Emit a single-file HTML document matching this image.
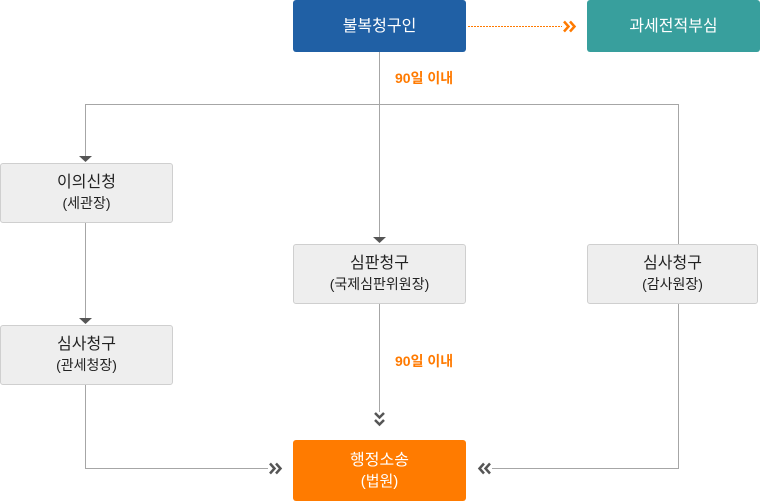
<!DOCTYPE html>
<html><head><meta charset="utf-8"><style>
body{margin:0;width:760px;height:501px;background:#fff;position:relative;overflow:hidden;font-family:"Liberation Sans","Noto Sans CJK KR",sans-serif}
.b{position:absolute;box-sizing:border-box;border-radius:3px;text-align:center;display:flex;flex-direction:column;justify-content:center;align-items:center}
.g{background:#eeeeee;border:1px solid #cfcfcf;color:#222}
.t{font-size:16px;line-height:21px}
.s{font-size:14px;line-height:21px}
.o{position:absolute;color:#ff7a00;font-size:14px;font-weight:bold}
</style></head><body>
<svg width="760" height="501" style="position:absolute;left:0;top:0">
<g stroke="#a6a6a6" stroke-width="1" fill="none">
<path d="M379.5 52V238"/>
<path d="M85.5 157V104.5H678.5V244"/>
<path d="M85.5 223V319"/>
<path d="M85.5 385V468.5H268"/>
<path d="M379.5 304V412"/>
<path d="M678.5 304V468.5H492"/>
</g>
<line x1="468" y1="26.5" x2="562" y2="26.5" stroke="#ff7a00" stroke-width="1" stroke-dasharray="2,1"/>
<g fill="none" stroke="#ff7a00" stroke-width="2.5"><path d="M564 21.5l4.5 5-4.5 5M570 21.5l4.5 5-4.5 5"/></g>
<g fill="#555"><path d="M79 156h13l-6.5 6z"/><path d="M79 318h13l-6.5 6z"/><path d="M373 237h13l-6.5 6z"/></g>
<g fill="none" stroke="#555" stroke-width="2.5">
<path d="M375 413l4.5 4.5 4.5-4.5M375 420l4.5 4.5 4.5-4.5"/>
<path d="M270 463.5l4.5 5-4.5 5M276 463.5l4.5 5-4.5 5"/>
<path d="M490 463.5l-4.5 5 4.5 5M484 463.5l-4.5 5 4.5 5"/>
</g>
</svg>
<div class="b t" style="left:293px;top:0;width:173px;height:52px;background:#2060a5;color:#fff">불복청구인</div>
<div class="b t" style="left:587px;top:0;width:173px;height:52px;background:#389f9d;color:#fff">과세전적부심</div>
<div class="o" style="left:395px;top:68px">90일 이내</div>
<div class="o" style="left:395px;top:351px">90일 이내</div>
<div class="b g" style="left:0;top:163px;width:173px;height:60px"><div class="t">이의신청</div><div class="s">(세관장)</div></div>
<div class="b g" style="left:0;top:325px;width:173px;height:60px"><div class="t">심사청구</div><div class="s">(관세청장)</div></div>
<div class="b g" style="left:293px;top:244px;width:173px;height:60px"><div class="t">심판청구</div><div class="s">(국제심판위원장)</div></div>
<div class="b g" style="left:587px;top:244px;width:171px;height:60px"><div class="t">심사청구</div><div class="s">(감사원장)</div></div>
<div class="b" style="left:293px;top:440px;width:173px;height:61px;background:#ff7b00;color:#fff"><div class="t">행정소송</div><div class="s" style="font-size:15px">(법원)</div></div>
</body></html>
